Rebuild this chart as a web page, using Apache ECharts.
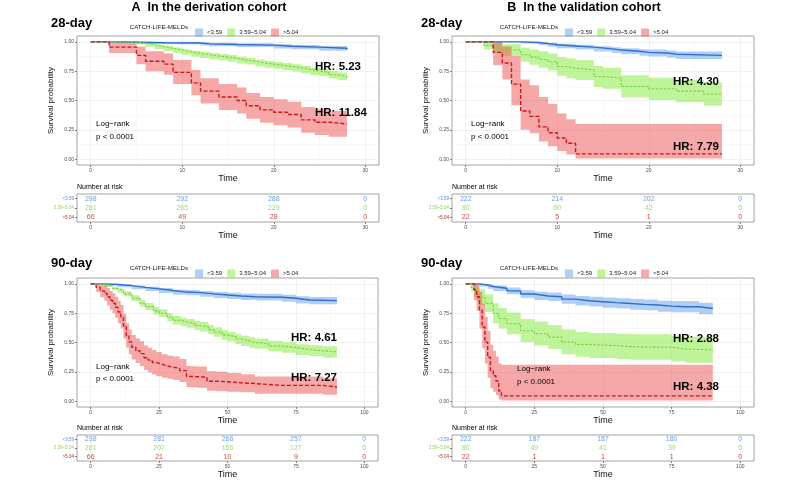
<!DOCTYPE html>
<html><head><meta charset="utf-8">
<script src="https://cdn.jsdelivr.net/npm/echarts@6/dist/echarts.min.js"></script>
<style>html,body{margin:0;padding:0;background:#fff}#c{width:800px;height:480px}</style>
</head><body><div id="c"></div>
<script>
// ---------- data ----------
var groups = ['<3.59', '3.59~5.04', '>5.04'];
var ticks28 = [0, 10, 20, 30];
var ticks90 = [0, 25, 50, 75, 100];
var minor28 = [5, 15, 25];
var minor90 = [12.5, 37.5, 62.5, 87.5];
var yTicks = [0, 0.25, 0.5, 0.75, 1];
var yMinor = [0.125, 0.375, 0.625, 0.875];

// A: derivation, 28-day
var a28LowT  = [0, 3, 5, 8, 12, 13, 16, 20, 22, 25, 28];
var a28LowS  = [1, 0.997, 0.993, 0.99, 0.983, 0.977, 0.972, 0.962, 0.955, 0.945, 0.935];
var a28LowLo = [1, 0.99, 0.984, 0.979, 0.969, 0.962, 0.956, 0.944, 0.936, 0.925, 0.913];
var a28LowHi = [1, 1, 1, 1, 0.996, 0.992, 0.988, 0.98, 0.974, 0.965, 0.957];
var a28MidT  = [0, 3, 5, 6, 7, 8, 9, 10, 11, 12, 13, 14, 15, 16, 17, 18, 19, 20, 21, 22, 23, 24, 25, 26, 27, 28];
var a28MidS  = [1, 0.997, 0.99, 0.975, 0.96, 0.945, 0.93, 0.915, 0.9, 0.89, 0.88, 0.87, 0.86, 0.845, 0.835, 0.82, 0.81, 0.8, 0.79, 0.78, 0.765, 0.75, 0.74, 0.72, 0.705, 0.69];
var a28MidLo = [1, 0.99, 0.978, 0.958, 0.94, 0.923, 0.906, 0.89, 0.874, 0.863, 0.852, 0.842, 0.831, 0.816, 0.806, 0.79, 0.78, 0.77, 0.759, 0.749, 0.733, 0.718, 0.708, 0.687, 0.672, 0.657];
var a28MidHi = [1, 1, 1, 0.99, 0.978, 0.965, 0.952, 0.938, 0.924, 0.915, 0.906, 0.896, 0.887, 0.873, 0.863, 0.849, 0.839, 0.829, 0.82, 0.81, 0.796, 0.782, 0.772, 0.753, 0.738, 0.723];
var a28HighT  = [0, 2, 5, 6, 8, 9, 11, 12, 14, 16, 17, 18.5, 20, 21.5, 23, 24.5, 26, 28];
var a28HighS  = [1, 0.955, 0.885, 0.835, 0.81, 0.74, 0.65, 0.58, 0.53, 0.50, 0.455, 0.42, 0.40, 0.38, 0.335, 0.315, 0.30, 0.30];
var a28HighLo = [1, 0.905, 0.81, 0.75, 0.72, 0.64, 0.545, 0.475, 0.42, 0.39, 0.345, 0.31, 0.29, 0.27, 0.225, 0.205, 0.19, 0.19];
var a28HighHi = [1, 1, 0.96, 0.92, 0.90, 0.845, 0.76, 0.69, 0.64, 0.61, 0.565, 0.53, 0.51, 0.49, 0.445, 0.425, 0.41, 0.41];

// B: validation, 28-day
var b28LowT  = [0, 6, 8, 9, 10, 12, 14, 16, 17, 19, 20, 22, 23, 28];
var b28LowS  = [1, 0.995, 0.985, 0.975, 0.965, 0.955, 0.94, 0.93, 0.92, 0.91, 0.905, 0.895, 0.885, 0.885];
var b28LowLo = [1, 0.985, 0.972, 0.958, 0.946, 0.934, 0.917, 0.905, 0.894, 0.882, 0.876, 0.864, 0.853, 0.853];
var b28LowHi = [1, 1, 0.998, 0.992, 0.984, 0.976, 0.963, 0.955, 0.946, 0.938, 0.934, 0.926, 0.917, 0.917];
var b28MidT  = [0, 2, 3, 4, 6, 7, 8, 9, 10, 11, 12, 14, 15, 17, 20, 23, 26, 28];
var b28MidS  = [1, 0.97, 0.95, 0.93, 0.89, 0.87, 0.85, 0.83, 0.79, 0.775, 0.76, 0.705, 0.69, 0.62, 0.60, 0.58, 0.555, 0.555];
var b28MidLo = [1, 0.935, 0.905, 0.88, 0.83, 0.805, 0.78, 0.755, 0.71, 0.69, 0.675, 0.615, 0.60, 0.525, 0.505, 0.485, 0.455, 0.455];
var b28MidHi = [1, 1, 0.995, 0.98, 0.95, 0.935, 0.92, 0.90, 0.87, 0.86, 0.845, 0.795, 0.78, 0.715, 0.695, 0.675, 0.655, 0.655];
var b28HighT  = [0, 3, 4, 5, 6, 7, 8, 9, 10, 11, 12, 28];
var b28HighS  = [1, 0.91, 0.82, 0.64, 0.41, 0.365, 0.275, 0.225, 0.18, 0.135, 0.045, 0.045];
var b28HighLo = [1, 0.80, 0.68, 0.46, 0.25, 0.22, 0.15, 0.11, 0.07, 0.04, 0.005, 0.005];
var b28HighHi = [1, 1, 0.96, 0.88, 0.68, 0.63, 0.53, 0.47, 0.39, 0.34, 0.30, 0.30];

// A: derivation, 90-day
var a90LowT  = [0, 5, 10, 15, 20, 25, 30, 35, 40, 45, 50, 55, 60, 70, 75, 80, 90];
var a90LowS  = [1, 0.995, 0.985, 0.97, 0.957, 0.943, 0.93, 0.925, 0.915, 0.905, 0.897, 0.89, 0.886, 0.877, 0.863, 0.857, 0.857];
var a90LowLo = [1, 0.987, 0.972, 0.954, 0.939, 0.923, 0.908, 0.902, 0.891, 0.88, 0.871, 0.863, 0.858, 0.848, 0.833, 0.826, 0.826];
var a90LowHi = [1, 1, 0.998, 0.987, 0.976, 0.964, 0.953, 0.948, 0.94, 0.931, 0.924, 0.918, 0.915, 0.907, 0.894, 0.889, 0.889];
var a90MidT  = [0, 3, 5, 8, 10, 12, 15, 18, 20, 23, 25, 28, 30, 33, 35, 38, 40, 43, 45, 48, 50, 53, 55, 58, 60, 65, 70, 75, 80, 85, 90];
var a90MidS  = [1, 0.995, 0.983, 0.96, 0.943, 0.915, 0.877, 0.835, 0.806, 0.77, 0.75, 0.715, 0.69, 0.675, 0.663, 0.645, 0.634, 0.61, 0.59, 0.565, 0.55, 0.53, 0.514, 0.5, 0.49, 0.47, 0.457, 0.44, 0.43, 0.42, 0.42];
var a90MidLo = [1, 0.99, 0.973, 0.945, 0.925, 0.895, 0.852, 0.807, 0.776, 0.738, 0.717, 0.68, 0.654, 0.638, 0.625, 0.606, 0.594, 0.57, 0.549, 0.523, 0.508, 0.487, 0.471, 0.456, 0.446, 0.425, 0.412, 0.394, 0.384, 0.373, 0.373];
var a90MidHi = [1, 1, 0.993, 0.975, 0.961, 0.935, 0.902, 0.863, 0.836, 0.802, 0.783, 0.75, 0.726, 0.712, 0.701, 0.684, 0.674, 0.65, 0.631, 0.607, 0.592, 0.573, 0.557, 0.544, 0.534, 0.515, 0.502, 0.486, 0.476, 0.467, 0.467];
var a90HighT  = [0, 2, 3.5, 5, 6, 7, 8, 9, 10, 11, 12, 13, 14, 15, 16.5, 18, 19.5, 21, 22.5, 24, 26, 28, 30, 32.5, 35, 37, 39, 42.5, 46, 50, 55, 60, 70, 85, 90];
var a90HighS  = [1, 0.97, 0.94, 0.92, 0.89, 0.86, 0.835, 0.80, 0.76, 0.72, 0.64, 0.56, 0.505, 0.46, 0.43, 0.405, 0.37, 0.35, 0.33, 0.315, 0.3, 0.29, 0.28, 0.26, 0.21, 0.208, 0.205, 0.17, 0.165, 0.157, 0.15, 0.134, 0.134, 0.12, 0.12];
var a90HighLo = [1, 0.93, 0.885, 0.855, 0.815, 0.78, 0.75, 0.71, 0.665, 0.62, 0.535, 0.455, 0.4, 0.355, 0.325, 0.3, 0.265, 0.245, 0.228, 0.213, 0.2, 0.19, 0.18, 0.163, 0.12, 0.118, 0.115, 0.088, 0.085, 0.08, 0.075, 0.064, 0.064, 0.055, 0.055];
var a90HighHi = [1, 1, 0.995, 0.985, 0.965, 0.94, 0.92, 0.89, 0.855, 0.82, 0.745, 0.665, 0.61, 0.565, 0.535, 0.51, 0.475, 0.455, 0.435, 0.42, 0.40, 0.39, 0.38, 0.36, 0.30, 0.298, 0.295, 0.255, 0.25, 0.24, 0.23, 0.21, 0.21, 0.195, 0.195];

// B: validation, 90-day
var b90LowT  = [0, 4, 5, 8, 10, 15, 20, 25, 30, 35, 40, 45, 50, 55, 60, 65, 70, 75, 80, 85, 90];
var b90LowS  = [1, 1, 0.99, 0.977, 0.963, 0.94, 0.914, 0.897, 0.89, 0.87, 0.856, 0.848, 0.84, 0.833, 0.825, 0.82, 0.81, 0.805, 0.805, 0.79, 0.785];
var b90LowLo = [1, 1, 0.977, 0.958, 0.94, 0.912, 0.882, 0.862, 0.853, 0.831, 0.815, 0.806, 0.797, 0.789, 0.78, 0.774, 0.763, 0.757, 0.757, 0.74, 0.735];
var b90LowHi = [1, 1, 1, 0.996, 0.986, 0.968, 0.946, 0.932, 0.927, 0.909, 0.897, 0.89, 0.883, 0.877, 0.87, 0.866, 0.857, 0.853, 0.853, 0.84, 0.835];
var b90MidT  = [0, 2, 3, 4, 5, 7, 10, 12, 15, 20, 25, 30, 35, 40, 45, 55, 60, 70, 75, 80, 90];
var b90MidS  = [1, 0.97, 0.94, 0.91, 0.885, 0.834, 0.747, 0.705, 0.66, 0.60, 0.575, 0.546, 0.503, 0.483, 0.474, 0.465, 0.46, 0.46, 0.445, 0.437, 0.43];
var b90MidLo = [1, 0.935, 0.89, 0.855, 0.82, 0.76, 0.665, 0.62, 0.57, 0.505, 0.475, 0.445, 0.4, 0.378, 0.368, 0.358, 0.353, 0.353, 0.337, 0.328, 0.32];
var b90MidHi = [1, 1, 0.99, 0.97, 0.955, 0.91, 0.835, 0.795, 0.755, 0.7, 0.68, 0.65, 0.61, 0.59, 0.582, 0.574, 0.57, 0.57, 0.556, 0.55, 0.545];
var b90HighT  = [0, 3, 4, 5, 6, 7, 8, 9, 10, 11, 12, 13, 90];
var b90HighS  = [1, 0.95, 0.89, 0.776, 0.632, 0.503, 0.374, 0.26, 0.216, 0.172, 0.086, 0.045, 0.045];
var b90HighLo = [1, 0.86, 0.77, 0.62, 0.45, 0.32, 0.2, 0.11, 0.08, 0.05, 0.015, 0.005, 0.005];
var b90HighHi = [1, 1, 1, 0.93, 0.83, 0.72, 0.6, 0.48, 0.43, 0.38, 0.32, 0.31, 0.31];

// numbers at risk
var a28RiskLow = [298, 292, 288, 0], a28RiskMid = [281, 265, 229, 0], a28RiskHigh = [66, 49, 28, 0];
var b28RiskLow = [222, 214, 202, 0], b28RiskMid = [80, 60, 42, 0],   b28RiskHigh = [22, 5, 1, 0];
var a90RiskLow = [298, 281, 266, 257, 0], a90RiskMid = [281, 207, 156, 127, 0], a90RiskHigh = [66, 21, 10, 9, 0];
var b90RiskLow = [222, 187, 187, 180, 0], b90RiskMid = [80, 49, 41, 39, 0],    b90RiskHigh = [22, 1, 1, 1, 0];

var hrA28 = ['HR: 5.23', 'HR: 11.84'], hrB28 = ['HR: 4.30', 'HR: 7.79'];
var hrA90 = ['HR: 4.61', 'HR: 7.27'], hrB90 = ['HR: 2.88', 'HR: 4.38'];

// ---------- styling ----------
var FONT = '"Liberation Sans", Arial, sans-serif';
var lineCol = ['#2f6fc9', '#7ccf3f', '#c8191f'];
var bandCol = ['rgba(70,140,230,0.42)', 'rgba(120,232,40,0.47)', 'rgba(234,58,58,0.44)'];
var riskCol = ['#4f8bd6', '#86d94a', '#b5242a'];
var lineType = ['solid', [2.5, 1.5], [4, 2]];
var lineW = [1.4, 1.1, 1.4];

var chart = echarts.init(document.getElementById('c'));
var grids = [], xAxes = [], yAxes = [], series = [];

function minorAxis(g, isX, min, max, vals) {
  var a = {type: 'value', gridIndex: g, min: min, max: max, position: isX ? 'top' : 'right',
    axisLine: {show: false, onZero: false},
    axisTick: {show: false, customValues: vals},
    axisLabel: {show: false, customValues: vals},
    splitLine: {show: true, lineStyle: {color: '#f3f3f3', width: 0.5}}, z: 0};
  (isX ? xAxes : yAxes).push(a);
}
function addMain(g, left, top, width, height, xmin, xmax, xt) {
  grids.push({left: left, top: top, width: width, height: height, show: true, borderColor: '#8c8c8c', borderWidth: 0.8, backgroundColor: 'transparent'});
  xAxes.push({type: 'value', gridIndex: g, min: xmin, max: xmax,
    axisLine: {show: false, onZero: false},
    axisTick: {show: true, customValues: xt, length: 2, lineStyle: {color: '#333', width: 0.6}},
    axisLabel: {customValues: xt, fontSize: 5, color: '#4d4d4d', margin: 3, fontFamily: FONT},
    splitLine: {show: true, lineStyle: {color: '#e8e8e8', width: 0.6}},
    name: 'Time', nameLocation: 'middle', nameGap: 8, nameTextStyle: {fontSize: 9, color: '#111', fontFamily: FONT}});
  yAxes.push({type: 'value', gridIndex: g, min: -0.05, max: 1.05,
    axisLine: {show: false, onZero: false},
    axisTick: {show: true, customValues: yTicks, length: 2, lineStyle: {color: '#333', width: 0.6}},
    axisLabel: {customValues: yTicks, fontSize: 5, color: '#4d4d4d', margin: 3, fontFamily: FONT, formatter: function (v) { return v.toFixed(2); }},
    splitLine: {show: true, lineStyle: {color: '#e8e8e8', width: 0.6}},
    name: 'Survival probability', nameLocation: 'middle', nameGap: 22, nameRotate: 90, nameTextStyle: {fontSize: 8, color: '#111', fontFamily: FONT}});
}
function addRisk(g, left, top, width, height, xmin, xmax, xt, nameGap) {
  grids.push({left: left, top: top, width: width, height: height, show: true, borderColor: '#8c8c8c', borderWidth: 0.8, backgroundColor: 'transparent'});
  xAxes.push({type: 'value', gridIndex: g, min: xmin, max: xmax,
    axisLine: {show: false, onZero: false},
    axisTick: {show: true, customValues: xt, length: 2, lineStyle: {color: '#333', width: 0.6}},
    axisLabel: {customValues: xt, fontSize: 5, color: '#4d4d4d', margin: 3, fontFamily: FONT},
    splitLine: {show: true, lineStyle: {color: '#ececec', width: 0.6}},
    name: 'Time', nameLocation: 'middle', nameGap: nameGap, nameTextStyle: {fontSize: 9, color: '#111', fontFamily: FONT}});
  yAxes.push({type: 'category', gridIndex: g, data: groups, inverse: true, position: 'left',
    axisLine: {show: false, onZero: false}, axisTick: {show: true, length: 2, alignWithLabel: true, lineStyle: {color: '#333', width: 0.6}},
    axisLabel: {fontSize: 4.5, margin: 3, fontFamily: FONT, color: function (v, i) { return riskCol[groups.indexOf(v)]; }},
    splitLine: {show: false}});
}
function addCurve(g, k, T, S, LO, HI) {
  var bandData = T.map(function (t, i) { return [t, LO[i], HI[i]]; });
  series.push({type: 'custom', xAxisIndex: g, yAxisIndex: g, silent: true, z: 1, clip: true,
    encode: {x: 0, y: [1, 2]}, data: bandData,
    renderItem: function (params, api) {
      if (params.dataIndex !== 0) return null;
      var up = [], dn = [], n = bandData.length;
      for (var i = 0; i < n; i++) {
        var x0 = bandData[i][0], x1 = i < n - 1 ? bandData[i + 1][0] : bandData[i][0];
        up.push(api.coord([x0, bandData[i][2]]), api.coord([x1, bandData[i][2]]));
        dn.push(api.coord([x0, bandData[i][1]]), api.coord([x1, bandData[i][1]]));
      }
      return {type: 'polygon', shape: {points: up.concat(dn.reverse())}, style: {fill: bandCol[k], stroke: null}};
    }});
  series.push({type: 'line', name: groups[k], xAxisIndex: g, yAxisIndex: g, step: 'end', symbol: 'none', z: 3,
    itemStyle: {color: bandCol[k]},
    lineStyle: {color: lineCol[k], width: lineW[k], type: lineType[k]},
    data: T.map(function (t, i) { return [t, S[i]]; })});
}
function addRiskRows(g, times, rows) {
  rows.forEach(function (r, k) {
    series.push({type: 'scatter', xAxisIndex: g, yAxisIndex: g, symbolSize: 1, itemStyle: {color: 'rgba(0,0,0,0)'}, silent: true, z: 5,
      label: {show: true, position: 'inside', formatter: function (p) { return String(p.value[2]); }, fontSize: 7, color: riskCol[k], fontFamily: FONT},
      data: times.map(function (t, i) { return [t, k, r[i]]; })});
  });
}

// grids: 0 A28 main, 1 A28 risk, 2 B28 main, 3 B28 risk, 4 A90 main, 5 A90 risk, 6 B90 main, 7 B90 risk
addMain(0, 77, 36, 302, 129, -1.5, 31.5, ticks28);
addRisk(1, 77, 194, 302, 28, -1.5, 31.5, ticks28, 3);
addMain(2, 452, 36, 302, 129, -1.5, 31.5, ticks28);
addRisk(3, 452, 194, 302, 28, -1.5, 31.5, ticks28, 3);
addMain(4, 77, 278, 301, 129, -5, 105, ticks90);
addRisk(5, 77, 435, 301, 28, -5, 105, ticks90, 9);
addMain(6, 452, 278, 302, 129, -5, 105, ticks90);
addRisk(7, 452, 435, 302, 28, -5, 105, ticks90, 9);
// minor grid lines
minorAxis(0, true, -1.5, 31.5, minor28); minorAxis(0, false, -0.05, 1.05, yMinor);
minorAxis(2, true, -1.5, 31.5, minor28); minorAxis(2, false, -0.05, 1.05, yMinor);
minorAxis(4, true, -5, 105, minor90); minorAxis(4, false, -0.05, 1.05, yMinor);
minorAxis(6, true, -5, 105, minor90); minorAxis(6, false, -0.05, 1.05, yMinor);

addCurve(0, 0, a28LowT, a28LowS, a28LowLo, a28LowHi);
addCurve(0, 1, a28MidT, a28MidS, a28MidLo, a28MidHi);
addCurve(0, 2, a28HighT, a28HighS, a28HighLo, a28HighHi);
addCurve(2, 0, b28LowT, b28LowS, b28LowLo, b28LowHi);
addCurve(2, 1, b28MidT, b28MidS, b28MidLo, b28MidHi);
addCurve(2, 2, b28HighT, b28HighS, b28HighLo, b28HighHi);
addCurve(4, 0, a90LowT, a90LowS, a90LowLo, a90LowHi);
addCurve(4, 1, a90MidT, a90MidS, a90MidLo, a90MidHi);
addCurve(4, 2, a90HighT, a90HighS, a90HighLo, a90HighHi);
addCurve(6, 0, b90LowT, b90LowS, b90LowLo, b90LowHi);
addCurve(6, 1, b90MidT, b90MidS, b90MidLo, b90MidHi);
addCurve(6, 2, b90HighT, b90HighS, b90HighLo, b90HighHi);

addRiskRows(1, ticks28, [a28RiskLow, a28RiskMid, a28RiskHigh]);
addRiskRows(3, ticks28, [b28RiskLow, b28RiskMid, b28RiskHigh]);
addRiskRows(5, ticks90, [a90RiskLow, a90RiskMid, a90RiskHigh]);
addRiskRows(7, ticks90, [b90RiskLow, b90RiskMid, b90RiskHigh]);

function legendAt(left, top) {
  return {left: left, top: top, itemWidth: 8, itemHeight: 8, itemGap: 5, icon: 'rect', selectedMode: false,
    textStyle: {fontSize: 6, color: '#222', fontFamily: FONT, padding: [0, 0, 0, -1]},
    data: groups.map(function (g, k) { return {name: g, itemStyle: {color: bandCol[k]}}; })};
}

function txt(s, x, y, size, bold, align, color) {
  return {type: 'text', silent: true, z: 100, style: {text: s, x: x, y: y, font: (bold ? 'bold ' : '') + size + 'px ' + FONT,
    fill: color || '#000', textAlign: align || 'left', textVerticalAlign: 'middle'}};
}
var graphics = [
  txt('A  In the derivation cohort', 209, 8, 12.5, true, 'center'),
  txt('B  In the validation cohort', 584, 8, 12.5, true, 'center'),
  txt('28-day', 51, 23, 13, true), txt('28-day', 421, 23, 13, true),
  txt('90-day', 51, 263, 13, true), txt('90-day', 421, 263, 13, true),
  txt('CATCH-LIFE-MELDs', 188, 27.5, 6.2, false, 'right', '#222'),
  txt('CATCH-LIFE-MELDs', 558, 27.5, 6.2, false, 'right', '#222'),
  txt('CATCH-LIFE-MELDs', 188, 268.5, 6.2, false, 'right', '#222'),
  txt('CATCH-LIFE-MELDs', 558, 268.5, 6.2, false, 'right', '#222'),
  txt(hrA28[0], 315, 67, 11.5, true), txt(hrA28[1], 315, 113, 11.5, true),
  txt(hrB28[0], 673, 82, 11.5, true), txt(hrB28[1], 673, 147, 11.5, true),
  txt(hrA90[0], 291, 338, 11.5, true), txt(hrA90[1], 291, 378, 11.5, true),
  txt(hrB90[0], 673, 339, 11.5, true), txt(hrB90[1], 673, 387, 11.5, true),
  txt('Log\u2212rank', 96, 124, 8), txt('p < 0.0001', 96, 137, 8),
  txt('Log\u2212rank', 471, 124, 8), txt('p < 0.0001', 471, 137, 8),
  txt('Log\u2212rank', 96, 367, 8), txt('p < 0.0001', 96, 379, 8),
  txt('Log\u2212rank', 517, 369, 8), txt('p < 0.0001', 517, 382, 8),
  txt('Number at risk', 77, 187, 7), txt('Number at risk', 452, 187, 7),
  txt('Number at risk', 77, 428, 7), txt('Number at risk', 452, 428, 7)
];

chart.setOption({
  animation: false,
  backgroundColor: '#fff',
  textStyle: {fontFamily: FONT},
  grid: grids, xAxis: xAxes, yAxis: yAxes, series: series,
  legend: [legendAt(190, 23.5), legendAt(560, 23.5), legendAt(190, 264.5), legendAt(560, 264.5)],
  graphic: graphics
});
</script></body></html>
